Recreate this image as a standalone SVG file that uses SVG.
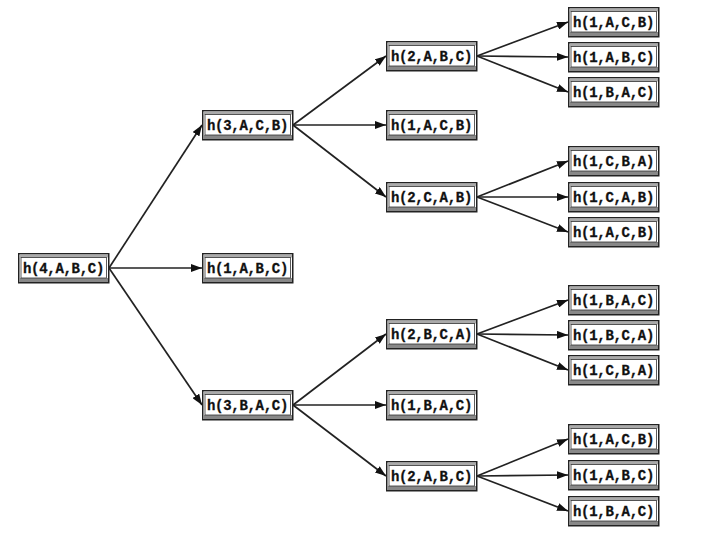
<svg xmlns="http://www.w3.org/2000/svg" width="720" height="540" viewBox="0 0 720 540">
<defs>
<marker id="ah" viewBox="0 0 11 8" refX="11" refY="4" markerWidth="11" markerHeight="8" markerUnits="userSpaceOnUse" orient="auto">
<path d="M0,0 L11,4 L0,8 z" fill="#111"/>
</marker>
<g id="box">
<rect x="0.75" y="0.75" width="90" height="29" fill="#fff" stroke="#222" stroke-width="1.5"/>
<rect x="1.5" y="1.5" width="88.5" height="3" fill="#aaa"/>
<rect x="1.5" y="25" width="88.5" height="4" fill="#888"/>
<rect x="3" y="4.5" width="85.5" height="20.5" fill="none" stroke="#333" stroke-width="0.8"/>
</g>
</defs>
<style>
.e{fill:none;stroke:#222;stroke-width:1.7;marker-end:url(#ah)}
.t{font-family:"Liberation Mono","DejaVu Sans Mono",monospace;font-weight:bold;font-size:14px;letter-spacing:-0.3px;fill:#111;stroke:#111;stroke-width:0.3;text-anchor:middle}
</style>
<rect width="720" height="540" fill="#fff"/>
<g id="connectors">
<line class="e" x1="109" y1="268" x2="202" y2="125"/>
<line class="e" x1="109" y1="268" x2="202" y2="268"/>
<line class="e" x1="109" y1="268" x2="202" y2="405"/>
<line class="e" x1="293" y1="125" x2="386" y2="56"/>
<line class="e" x1="293" y1="125" x2="386" y2="125"/>
<line class="e" x1="293" y1="125" x2="386" y2="197"/>
<line class="e" x1="293" y1="405" x2="386" y2="334"/>
<line class="e" x1="293" y1="405" x2="386" y2="405"/>
<line class="e" x1="293" y1="405" x2="386" y2="476"/>
<line class="e" x1="477" y1="56" x2="568" y2="22"/>
<line class="e" x1="477" y1="56" x2="568" y2="57"/>
<line class="e" x1="477" y1="56" x2="568" y2="92"/>
<line class="e" x1="477" y1="197" x2="568" y2="161"/>
<line class="e" x1="477" y1="197" x2="568" y2="197"/>
<line class="e" x1="477" y1="197" x2="568" y2="232"/>
<line class="e" x1="477" y1="334" x2="568" y2="300"/>
<line class="e" x1="477" y1="334" x2="568" y2="335"/>
<line class="e" x1="477" y1="334" x2="568" y2="370"/>
<line class="e" x1="477" y1="476" x2="568" y2="439"/>
<line class="e" x1="477" y1="476" x2="568" y2="475"/>
<line class="e" x1="477" y1="476" x2="568" y2="511"/>
</g>
<g id="n0" transform="translate(18,253)"><use href="#box"/><text class="t" x="45.5" y="20">h(4,A,B,C)</text></g>
<g id="n1" transform="translate(202,110)"><use href="#box"/><text class="t" x="45.5" y="20">h(3,A,C,B)</text></g>
<g id="n2" transform="translate(202,253)"><use href="#box"/><text class="t" x="45.5" y="20">h(1,A,B,C)</text></g>
<g id="n3" transform="translate(202,390)"><use href="#box"/><text class="t" x="45.5" y="20">h(3,B,A,C)</text></g>
<g id="n4" transform="translate(386,41)"><use href="#box"/><text class="t" x="45.5" y="20">h(2,A,B,C)</text></g>
<g id="n5" transform="translate(386,110)"><use href="#box"/><text class="t" x="45.5" y="20">h(1,A,C,B)</text></g>
<g id="n6" transform="translate(386,182)"><use href="#box"/><text class="t" x="45.5" y="20">h(2,C,A,B)</text></g>
<g id="n7" transform="translate(386,319)"><use href="#box"/><text class="t" x="45.5" y="20">h(2,B,C,A)</text></g>
<g id="n8" transform="translate(386,390)"><use href="#box"/><text class="t" x="45.5" y="20">h(1,B,A,C)</text></g>
<g id="n9" transform="translate(386,461)"><use href="#box"/><text class="t" x="45.5" y="20">h(2,A,B,C)</text></g>
<g id="n10" transform="translate(568,7)"><use href="#box"/><text class="t" x="45.5" y="20">h(1,A,C,B)</text></g>
<g id="n11" transform="translate(568,42)"><use href="#box"/><text class="t" x="45.5" y="20">h(1,A,B,C)</text></g>
<g id="n12" transform="translate(568,77)"><use href="#box"/><text class="t" x="45.5" y="20">h(1,B,A,C)</text></g>
<g id="n13" transform="translate(568,146)"><use href="#box"/><text class="t" x="45.5" y="20">h(1,C,B,A)</text></g>
<g id="n14" transform="translate(568,182)"><use href="#box"/><text class="t" x="45.5" y="20">h(1,C,A,B)</text></g>
<g id="n15" transform="translate(568,217)"><use href="#box"/><text class="t" x="45.5" y="20">h(1,A,C,B)</text></g>
<g id="n16" transform="translate(568,285)"><use href="#box"/><text class="t" x="45.5" y="20">h(1,B,A,C)</text></g>
<g id="n17" transform="translate(568,320)"><use href="#box"/><text class="t" x="45.5" y="20">h(1,B,C,A)</text></g>
<g id="n18" transform="translate(568,355)"><use href="#box"/><text class="t" x="45.5" y="20">h(1,C,B,A)</text></g>
<g id="n19" transform="translate(568,424)"><use href="#box"/><text class="t" x="45.5" y="20">h(1,A,C,B)</text></g>
<g id="n20" transform="translate(568,460)"><use href="#box"/><text class="t" x="45.5" y="20">h(1,A,B,C)</text></g>
<g id="n21" transform="translate(568,496)"><use href="#box"/><text class="t" x="45.5" y="20">h(1,B,A,C)</text></g>
</svg>
